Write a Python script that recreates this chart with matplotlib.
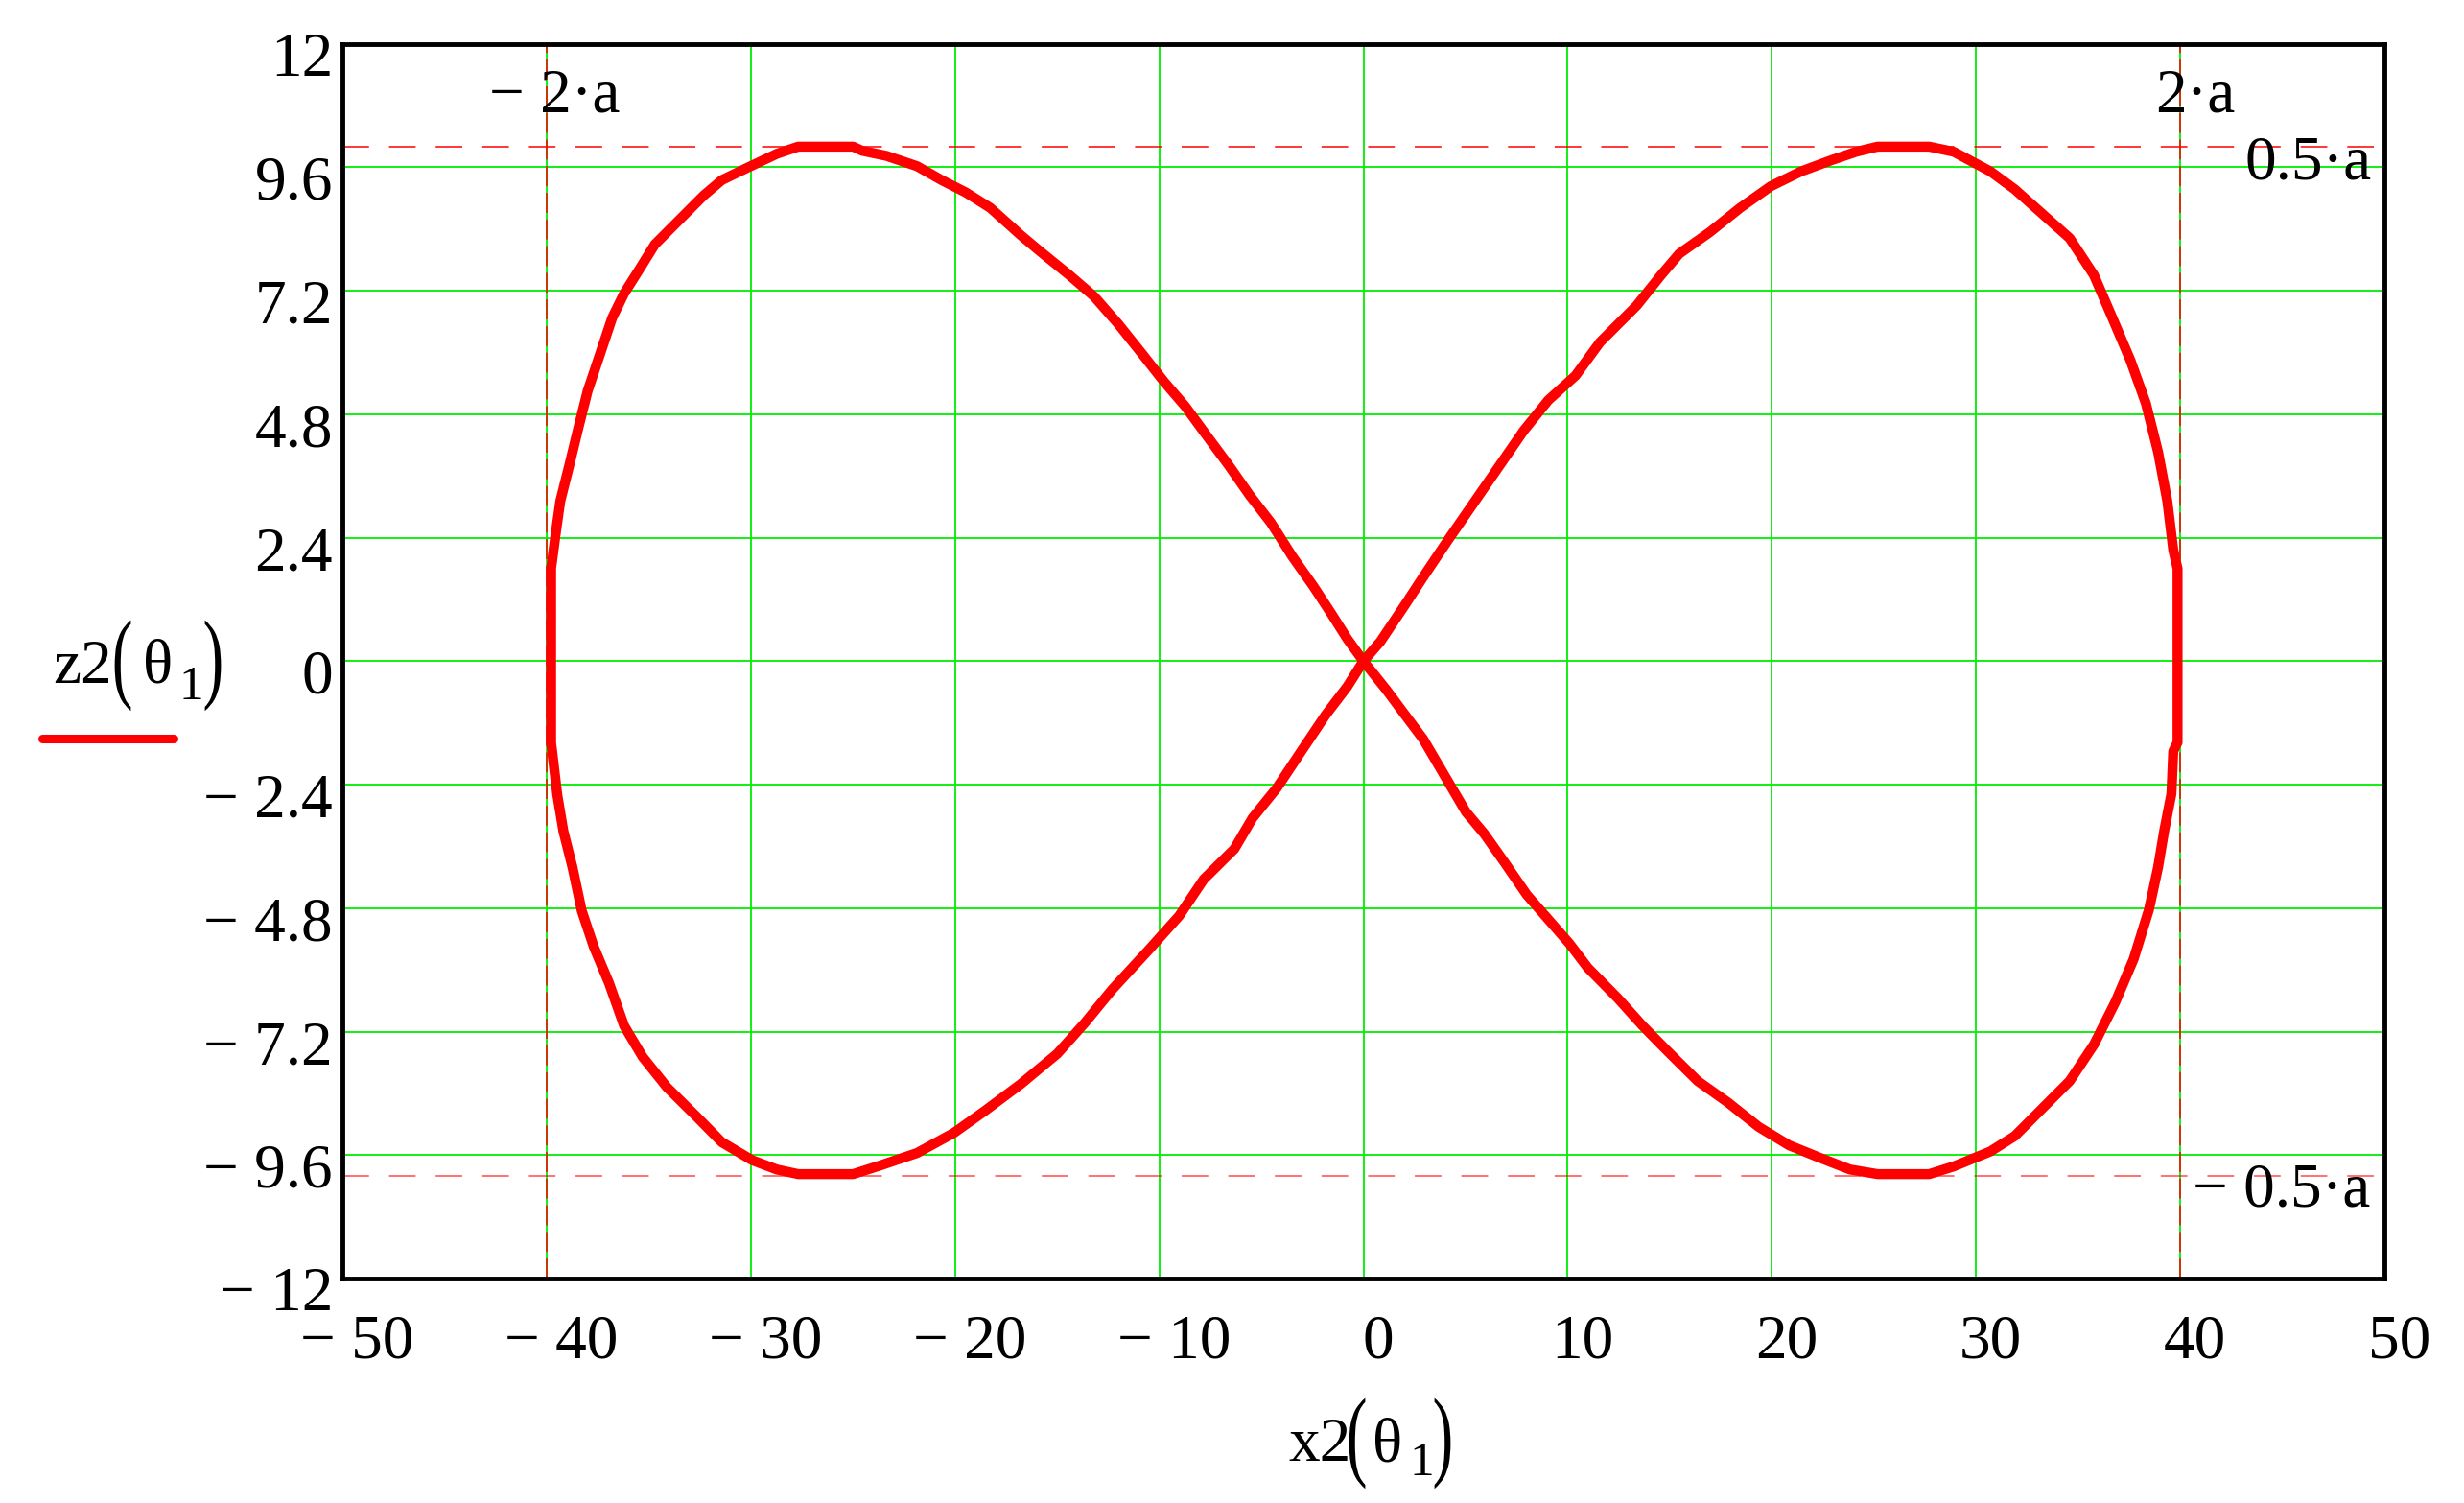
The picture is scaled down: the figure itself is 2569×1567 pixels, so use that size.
import matplotlib
matplotlib.use("Agg")
import matplotlib.pyplot as plt
import matplotlib.transforms as mtrans
from matplotlib.lines import Line2D
from matplotlib.textpath import TextPath
from matplotlib.patches import PathPatch
from matplotlib.font_manager import FontProperties

plt.rcParams['font.family'] = ['Liberation Serif', 'DejaVu Serif']
plt.rcParams['lines.scale_dashes'] = False

# ---- data: x2(theta1), z2(theta1) ----
x2 = [0, 0.83, 2.03, 2.92, 4.12, 5.46, 6.51, 7.85, 9.05, 10.39, 11.59, 13.38, 14.57, 15.47,
      16.97, 18.45, 19.95, 21.44, 22.94, 24.13, 25.18, 27.71, 28.91, 30.70, 31.90, 34.59,
      35.78, 36.68, 37.57, 38.32, 38.92, 39.37, 39.66, 39.87, 39.87, 39.87, 39.66, 39.57,
      39.22, 38.92, 38.47, 37.72, 36.83, 35.78, 34.59, 31.90, 30.70, 28.91, 27.71, 25.18,
      23.83, 22.34, 20.85, 19.35, 17.86, 16.37, 14.87, 13.68, 12.48, 10.99, 10.09, 8.90,
      8.00, 6.96, 5.91, 5.02, 3.97, 2.92, 2.03, 1.13, 0,
      -0.80, -1.55, -2.44, -3.49, -4.53, -5.58, -6.62, -7.52, -8.72, -9.76, -10.81, -12.00,
      -13.19, -14.39, -15.88, -16.78, -18.27, -19.47, -20.66, -21.86, -23.35, -24.55, -24.99,
      -27.68, -28.73, -30.22, -31.42, -32.31, -34.70, -35.45, -36.20, -36.79, -37.39, -37.99,
      -38.44, -38.88, -39.33, -39.54, -39.78, -39.78, -39.78, -39.48, -39.18, -38.73, -38.28,
      -37.69, -36.94, -36.20, -35.30, -34.11, -32.61, -31.42, -29.93, -28.73, -27.68, -24.99,
      -23.65, -21.86, -20.06, -18.57, -16.78, -14.99, -13.64, -12.30, -10.51, -9.02, -7.82,
      -6.32, -5.43, -4.23, -3.04, -1.84, -0.80, 0]
z2 = [0, 0.38, 1.09, 1.63, 2.34, 3.11, 3.71, 4.48, 5.07, 5.55, 6.20, 6.91, 7.50, 7.92,
      8.34, 8.81, 9.23, 9.52, 9.74, 9.90, 10.0, 10.0, 9.90, 9.52, 9.17, 8.22,
      7.50, 6.67, 5.84, 5.01, 4.06, 3.11, 2.16, 1.80, 0, -1.58, -1.75, -2.58,
      -3.29, -4.00, -4.83, -5.79, -6.62, -7.45, -8.16, -9.23, -9.53, -9.82, -9.97, -9.97,
      -9.88, -9.65, -9.41, -9.05, -8.58, -8.16, -7.57, -7.09, -6.56, -5.96, -5.49, -4.95,
      -4.54, -3.94, -3.35, -2.93, -2.22, -1.51, -1.04, -0.56, 0,
      0.44, 0.91, 1.45, 2.04, 2.69, 3.23, 3.82, 4.30, 4.95, 5.43, 5.96, 6.55,
      7.09, 7.50, 7.98, 8.28, 8.81, 9.11, 9.35, 9.62, 9.82, 9.92, 10.0,
      10.0, 9.86, 9.58, 9.35, 9.05, 8.10, 7.62, 7.15, 6.67, 5.96, 5.25,
      4.54, 3.82, 3.11, 2.52, 1.80, 0, -1.58, -2.59, -3.30, -4.01, -4.85,
      -5.55, -6.26, -7.09, -7.69, -8.28, -8.87, -9.35, -9.70, -9.88, -9.97, -9.97,
      -9.80, -9.56, -9.17, -8.75, -8.22, -7.63, -7.03, -6.38, -5.61, -4.95, -4.24,
      -3.65, -3.05, -2.46, -1.75, -1.04, -0.50, 0]

x_ticks = [-50, -40, -30, -20, -10, 0, 10, 20, 30, 40, 50]
x_ticklabels = ["\u2212 50", "\u2212 40", "\u2212 30", "\u2212 20", "\u2212 10", "0",
                "10", "20", "30", "40", "50"]
z_ticks = [12, 9.6, 7.2, 4.8, 2.4, 0, -2.4, -4.8, -7.2, -9.6, -12]
z_ticklabels = ["12", "9.6", "7.2", "4.8", "2.4", "0", "\u2212 2.4", "\u2212 4.8",
                "\u2212 7.2", "\u2212 9.6", "\u2212 12"]
a = 20
x_marks = [-2 * a, 2 * a]
z_marks = [0.5 * a, -0.5 * a]

W, H = 2569, 1567
FS = 47
fig = plt.figure(figsize=(W / 100, H / 100), dpi=100)
ax = fig.add_axes([357 / W, 1 - 1333 / H, (2486 - 357) / W, (1333 - 45.6) / H])
ax.set_xlim(-50, 50)
ax.set_ylim(-12, 12)

# grid lines
for xv in x_ticks[1:-1]:
    ax.axvline(xv, color='#00ee00', lw=1.3, zorder=1)
for zv in z_ticks[1:-1]:
    ax.axhline(zv, color='#00ee00', lw=1.3, zorder=1)

# marker lines
for xv in x_marks:
    ax.axvline(xv, color='red', lw=1.1, dashes=(15, 5), zorder=2)
ax.axhline(z_marks[0], color='red', lw=1.1, dashes=(20, 15), zorder=2)
ax.axhline(z_marks[1], color='red', lw=1.1, dashes=(20, 15), alpha=0.7, zorder=2)

ax.plot(x2, z2, color='#ff0000', lw=7.5, solid_joinstyle='round',
        solid_capstyle='round', zorder=3)

ax.set_xticks(x_ticks)
ax.set_xticklabels(x_ticklabels)
ax.set_yticks(z_ticks)
ax.set_yticklabels(z_ticklabels)
ax.tick_params(axis='both', length=0, labelsize=FS)
ax.tick_params(axis='x', pad=0)
ax.tick_params(axis='y', pad=7.2)
offx = mtrans.ScaledTranslation(0.155, -0.83, fig.dpi_scale_trans)
for lab in ax.get_xticklabels():
    lab.set_va('baseline')
    lab.set_transform(lab.get_transform() + offx)
offy = mtrans.ScaledTranslation(0, -0.335, fig.dpi_scale_trans)
for lab in ax.get_yticklabels():
    lab.set_va('baseline')
    lab.set_transform(lab.get_transform() + offy)

for sp in ax.spines.values():
    sp.set_linewidth(3.5)
    sp.set_color('black')
    sp.set_zorder(5)

# annotations
ax.text(-42.8, 10.67, "\u2212 2\u00b7a", fontsize=FS, ha='left', va='baseline')
ax.text(38.8, 10.67, "2\u00b7a", fontsize=FS, ha='left', va='baseline')
ax.text(49.35, 9.37, "0.5\u00b7a", fontsize=FS, ha='right', va='baseline')
ax.text(49.3, -10.6, "\u2212 0.5\u00b7a", fontsize=FS, ha='right', va='baseline')

fp = FontProperties(family='Liberation Serif')
EM = FS * 100 / 72.0  # em size in pixels


def ptext(s, xc, yb, size):
    fig.text(xc / W, 1 - yb / H, s, fontsize=size, ha='center', va='baseline')


def paren(ch, xc, yb, sy=1.6):
    tp = TextPath((0, 0), ch, size=EM, prop=fp)
    ext = tp.get_extents()
    cx = (ext.x0 + ext.x1) / 2
    tr = (mtrans.Affine2D().translate(-cx, 0).scale(1, sy)
          .translate(xc, H - yb).scale(1 / W, 1 / H) + fig.transFigure)
    fig.add_artist(PathPatch(tp, transform=tr, color='black', lw=0))


def func_label(name, xs, ys):
    ptext(name, xs[0], ys[0], FS)
    paren("(", xs[1], ys[1])
    ptext("\u03b8", xs[2], ys[0], FS)
    ptext("1", xs[3], ys[2], 37)
    paren(")", xs[4], ys[1])


func_label("z2", [86, 128, 165, 199, 222], [712, 719, 729])
func_label("x2", [1376, 1415, 1447, 1482, 1504], [1523, 1530, 1538])

fig.add_artist(Line2D([44 / W, 181 / W], [1 - 770 / H, 1 - 770 / H], color='#ff0000',
                      lw=6.5, solid_capstyle='round'))

fig.savefig("out.png", dpi=100)
